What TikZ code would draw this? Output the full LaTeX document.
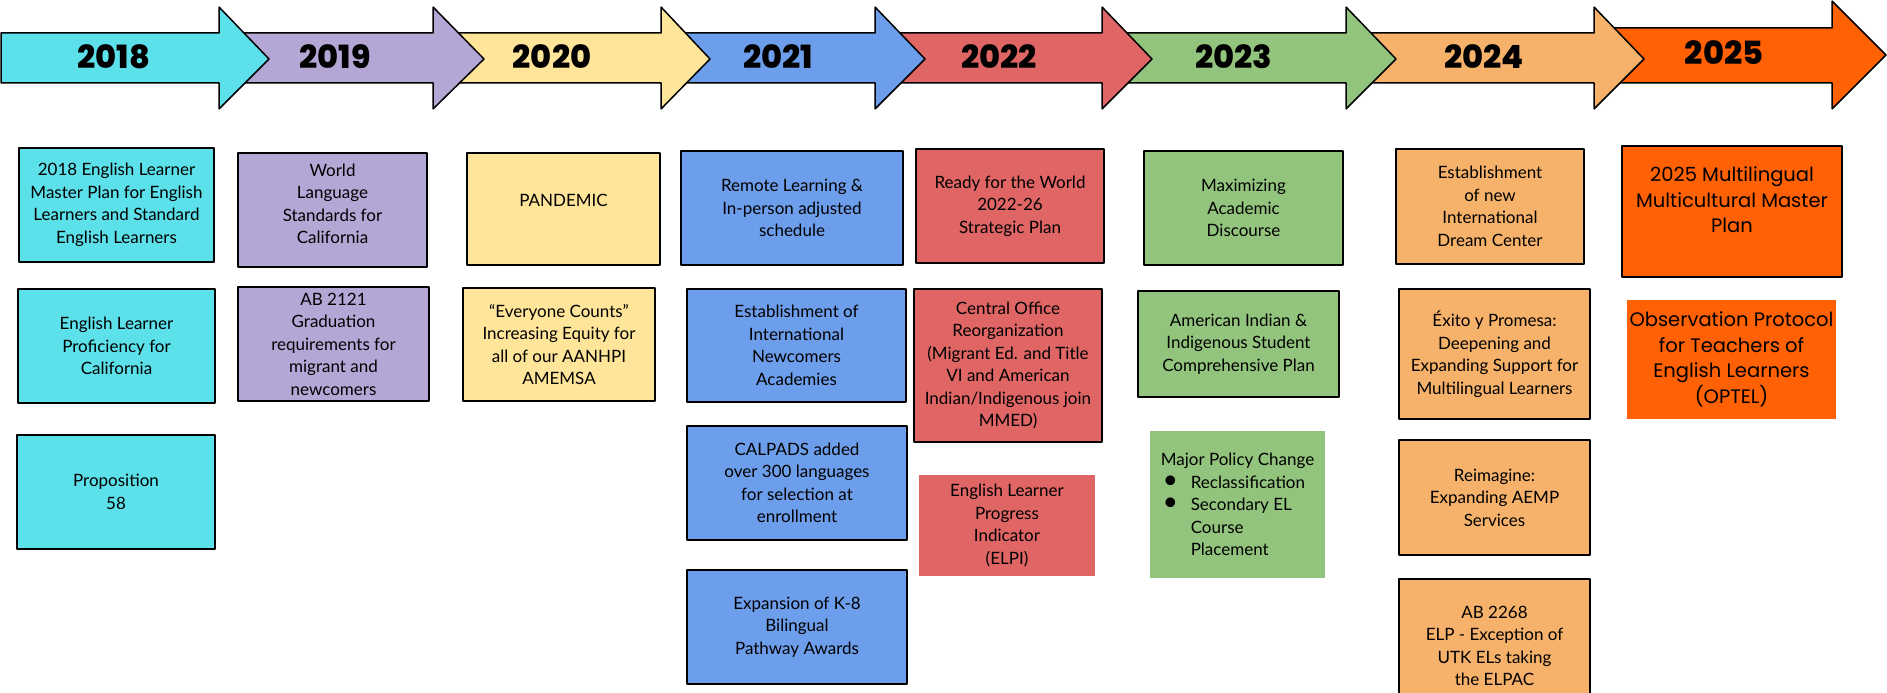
\documentclass[tikz,border=0pt]{standalone}
\usepackage{fontspec}
\setmainfont{Lato}
\newfontfamily\popfont{Poppins}[BoldFont={Poppins ExtraBold}]
\definecolor{fill2018}{HTML}{5CE1EA}
\definecolor{fill2019}{HTML}{B4A7D6}
\definecolor{fill2020}{HTML}{FFE599}
\definecolor{fill2021}{HTML}{6D9EEB}
\definecolor{fill2022}{HTML}{E06666}
\definecolor{fill2023}{HTML}{93C47D}
\definecolor{fill2024}{HTML}{F6B26B}
\definecolor{fill2025}{HTML}{FF6104}
\begin{document}
\begin{tikzpicture}[>=latex,line join=bevel,
  evbox/.style={draw=black,line width=1.5bp,inner sep=0pt,align=center,
    font=\fontsize{17bp}{22.5bp}\selectfont},
  evflat/.style={evbox,draw=none},
  evpop/.style={evbox,font=\popfont\fontsize{19.5bp}{25.5bp}\selectfont},
  yearlab/.style={inner sep=0pt,font=\popfont\bfseries\fontsize{32bp}{32bp}\selectfont},
  ]
  \pgfsetlinewidth{1.5bp}
  \useasboundingbox (0bp,0bp) rectangle (1887bp,693bp);
%%
  % Arrow: 2025
  \draw [fill=fill2025] (1599bp,665bp) -- (1832bp,665bp) -- (1832bp,692bp) -- (1886bp,638bp) -- (1832bp,584bp) -- (1832bp,610bp) -- (1599bp,610bp) -- cycle;
  % Arrow: 2024
  \draw [fill=fill2024] (1351bp,660bp) -- (1594bp,660bp) -- (1594bp,686bp) -- (1644bp,634bp) -- (1594bp,584bp) -- (1594bp,610bp) -- (1351bp,610bp) -- cycle;
  % Arrow: 2023
  \draw [fill=fill2023] (1107bp,660bp) -- (1346bp,660bp) -- (1346bp,686bp) -- (1396bp,634bp) -- (1346bp,584bp) -- (1346bp,610bp) -- (1107bp,610bp) -- cycle;
  % Arrow: 2022
  \draw [fill=fill2022] (880bp,660bp) -- (1102bp,660bp) -- (1102bp,686bp) -- (1152bp,634bp) -- (1102bp,584bp) -- (1102bp,610bp) -- (880bp,610bp) -- cycle;
  % Arrow: 2021
  \draw [fill=fill2021] (666bp,660bp) -- (875bp,660bp) -- (875bp,686bp) -- (925bp,634bp) -- (875bp,584bp) -- (875bp,610bp) -- (666bp,610bp) -- cycle;
  % Arrow: 2020
  \draw [fill=fill2020] (438bp,660bp) -- (661bp,660bp) -- (661bp,686bp) -- (710bp,634bp) -- (661bp,584bp) -- (661bp,610bp) -- (438bp,610bp) -- cycle;
  % Arrow: 2019
  \draw [fill=fill2019] (225bp,660bp) -- (433bp,660bp) -- (433bp,686bp) -- (484bp,634bp) -- (433bp,584bp) -- (433bp,610bp) -- (225bp,610bp) -- cycle;
  % Arrow: 2018
  \draw [fill=fill2018] (1bp,660bp) -- (219bp,660bp) -- (219bp,686bp) -- (269bp,634bp) -- (219bp,584bp) -- (219bp,610bp) -- (1bp,610bp) -- cycle;
%%
  % Node: years
  \node [yearlab] (y2018) at (114bp,636bp) {2018};
  \node [yearlab] (y2019) at (335bp,636bp) {2019};
  \node [yearlab] (y2020) at (552bp,636bp) {2020};
  \node [yearlab] (y2021) at (778bp,636bp) {2021};
  \node [yearlab] (y2022) at (999bp,636bp) {2022};
  \node [yearlab] (y2023) at (1234bp,636bp) {2023};
  \node [yearlab] (y2024) at (1484bp,636bp) {2024};
  \node [yearlab] (y2025) at (1724bp,640bp) {2025};
%%
  % Node: 2018 column
\begin{scope}
  \node [evbox,fill=fill2018,minimum width=195bp,minimum height=114bp] (b2018a) at (116.5bp,488bp)
    {2018 English Learner\\Master Plan for English\\Learners and Standard\\English Learners};
  \node [evbox,fill=fill2018,minimum width=197bp,minimum height=114bp] (b2018b) at (116.5bp,347bp)
    {English Learner\\Proficiency for\\California};
  \node [evbox,fill=fill2018,minimum width=198bp,minimum height=114bp] (b2018c) at (116bp,201bp)
    {Proposition\\58};
\end{scope}
  % Node: 2019 column
\begin{scope}
  \node [evbox,fill=fill2019,minimum width=189bp,minimum height=114bp] (b2019a) at (332.5bp,483bp)
    {World\\Language\\Standards for\\California\\[-10bp]\mbox{}};
  \node [evbox,fill=fill2019,minimum width=191bp,minimum height=114bp] (b2019b) at (333.5bp,349bp)
    {AB 2121\\Graduation\\requirements for\\migrant and\\newcomers};
\end{scope}
  % Node: 2020 column
\begin{scope}
  \node [evbox,fill=fill2020,minimum width=193bp,minimum height=112bp] (b2020a) at (563.5bp,484bp)
    {PANDEMIC\\[-6bp]\mbox{}};
  \node [evbox,fill=fill2020,minimum width=192bp,minimum height=113bp] (b2020b) at (559bp,348.5bp)
    {“Everyone Counts”\\Increasing Equity for\\all of our AANHPI\\AMEMSA};
\end{scope}
  % Node: 2021 column
\begin{scope}
  \node [evbox,fill=fill2021,minimum width=222bp,minimum height=114bp] (b2021a) at (792bp,485bp)
    {Remote Learning \&\\In-person adjusted\\schedule};
  \node [evbox,fill=fill2021,minimum width=219bp,minimum height=113bp] (b2021b) at (796.5bp,347.5bp)
    {Establishment of\\International\\Newcomers\\Academies};
  \node [evbox,fill=fill2021,minimum width=220bp,minimum height=114bp] (b2021c) at (797bp,210bp)
    {CALPADS added\\over 300 languages\\for selection at\\enrollment};
  \node [evbox,fill=fill2021,minimum width=220bp,minimum height=114bp] (b2021d) at (797bp,66bp)
    {Expansion of K-8\\Bilingual\\Pathway Awards};
\end{scope}
  % Node: 2022 column
\begin{scope}
  \node [evbox,fill=fill2022,minimum width=188bp,minimum height=114bp] (b2022a) at (1010bp,487bp)
    {Ready for the World\\2022-26\\Strategic Plan};
  \node [evbox,fill=fill2022,minimum width=188bp,minimum height=153bp] (b2022b) at (1008bp,327.5bp)
    {Central Office\\Reorganization\\(Migrant Ed. and Title\\VI and American\\Indian/Indigenous join\\MMED)};
  \node [evflat,fill=fill2022,minimum width=176bp,minimum height=101bp] (b2022c) at (1007bp,167.5bp)
    {English Learner\\Progress\\Indicator\\(ELPI)};
\end{scope}
  % Node: 2023 column
\begin{scope}
  \node [evbox,fill=fill2023,minimum width=199bp,minimum height=114bp] (b2023a) at (1243.5bp,485bp)
    {Maximizing\\Academic\\Discourse};
  \node [evbox,fill=fill2023,minimum width=201bp,minimum height=106bp] (b2023b) at (1238.5bp,349bp)
    {American Indian \&\\Indigenous Student\\Comprehensive Plan};
  \node [evflat,fill=fill2023,align=left,minimum width=175bp,minimum height=147bp] (b2023c) at (1237.5bp,188.5bp)
    {Major Policy Change\\
     \hspace*{2bp}\makebox[28bp][l]{\fontsize{26bp}{22.5bp}\selectfont\textbullet}Reclassification\\
     \hspace*{2bp}\makebox[28bp][l]{\fontsize{26bp}{22.5bp}\selectfont\textbullet}Secondary EL\\
     \hspace*{30bp}Course\\
     \hspace*{30bp}Placement};
\end{scope}
  % Node: 2024 column
\begin{scope}
  \node [evbox,fill=fill2024,minimum width=188bp,minimum height=115bp] (b2024a) at (1490bp,486.5bp)
    {Establishment\\of new\\International\\Dream Center};
  \node [evbox,fill=fill2024,minimum width=191bp,minimum height=130bp] (b2024b) at (1494.5bp,339bp)
    {Éxito y Promesa:\\Deepening and\\Expanding Support for\\Multilingual Learners};
  \node [evbox,fill=fill2024,minimum width=191bp,minimum height=115bp] (b2024c) at (1494.5bp,195.5bp)
    {Reimagine:\\Expanding AEMP\\Services};
  \node [evbox,fill=fill2024,minimum width=191bp,minimum height=134bp] (b2024d) at (1494.5bp,47bp)
    {AB 2268\\ELP - Exception of\\UTK ELs taking\\the ELPAC};
\end{scope}
  % Node: 2025 column
\begin{scope}
  \node [evpop,fill=fill2025,minimum width=220bp,minimum height=131bp] (b2025a) at (1732bp,481.5bp)
    {2025 Multilingual\\Multicultural Master\\Plan\\[-2bp]\mbox{}};
  \node [evpop,draw=none,fill=fill2025,minimum width=209bp,minimum height=119bp] (b2025b) at (1731.5bp,333.5bp)
    {Observation Protocol\\for Teachers of\\English Learners\\(OPTEL)};
\end{scope}
%
\end{tikzpicture}
\end{document}
